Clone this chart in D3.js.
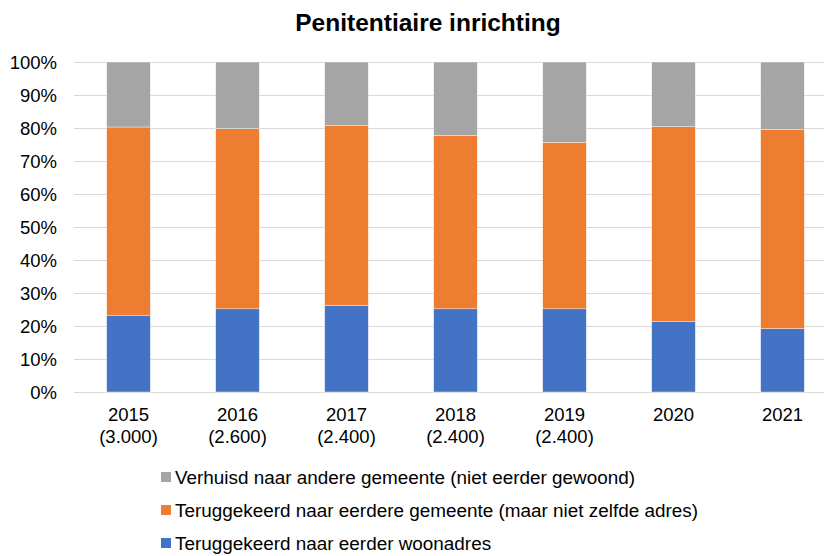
<!DOCTYPE html>
<html>
<head>
<meta charset="utf-8">
<title>Penitentiaire inrichting</title>
<script src="https://d3js.org/d3.v7.min.js"></script>
<style>
  body { margin: 0; background: #fff; }
  text { font-family: "Liberation Sans", Arial, sans-serif; fill: #000; }
</style>
</head>
<body>
<script>
var years = ["2015", "2016", "2017", "2018", "2019", "2020", "2021"];
var counts = ["(3.000)", "(2.600)", "(2.400)", "(2.400)", "(2.400)", "", ""];
// shares in percent, bottom to top
var eerderAdres = [23.1, 25.2, 26.2, 25.2, 25.2, 21.3, 19.2];
var eerdereGemeente = [57.2, 54.6, 54.5, 52.5, 50.5, 59.1, 60.3];
var andereGemeente = [19.7, 20.2, 19.3, 22.3, 24.3, 19.6, 20.5];
var seriesNames = [
  "Teruggekeerd naar eerder woonadres",
  "Teruggekeerd naar eerdere gemeente (maar niet zelfde adres)",
  "Verhuisd naar andere gemeente (niet eerder gewoond)"
];
var colors = ["#4472C4", "#ED7D31", "#A5A5A5"];
var yTicks = [0, 10, 20, 30, 40, 50, 60, 70, 80, 90, 100];

var width = 824, height = 556;

var rows = years.map(function(y, i) {
  return { year: y, s0: eerderAdres[i], s1: eerdereGemeente[i], s2: andereGemeente[i] };
});

var svg = d3.select("body").append("svg")
  .attr("width", width)
  .attr("height", height);

var x = d3.scaleBand()
  .domain(years)
  .range([74, 837])
  .paddingInner(0.6)
  .paddingOuter(0.3);

var y = d3.scaleLinear()
  .domain([0, 100])
  .range([392, 62]);

// title
svg.append("text")
  .attr("x", 428)
  .attr("y", 31)
  .attr("text-anchor", "middle")
  .style("font-size", "24.5px")
  .style("font-weight", "bold")
  .text("Penitentiaire inrichting");

// gridlines
svg.append("g")
  .selectAll("line")
  .data(yTicks)
  .enter()
    .append("line")
    .attr("x1", 74)
    .attr("x2", width)
    .attr("y1", function(d) { return y(d) + 0.5; })
    .attr("y2", function(d) { return y(d) + 0.5; })
    .attr("stroke", "#d9d9d9")
    .attr("stroke-width", 1);

// y axis
var yAxis = d3.axisLeft(y)
  .tickValues(yTicks)
  .tickSize(0)
  .tickPadding(0)
  .tickFormat(function(d) { return d + "%"; });

var yg = svg.append("g")
  .attr("transform", "translate(57,0)")
  .call(yAxis);
yg.select(".domain").remove();
yg.selectAll("text").style("font-size", "18.5px").attr("dy", "0.35em");

// stacked bars
var stack = d3.stack().keys(["s0", "s1", "s2"]);
var layers = stack(rows);

svg.append("g")
  .selectAll("g")
  .data(layers)
  .enter()
    .append("g")
    .attr("fill", function(d, i) { return colors[i]; })
    .selectAll("rect")
    .data(function(d) { return d; })
    .enter()
      .append("rect")
      .attr("x", function(d) { return x(d.data.year); })
      .attr("width", x.bandwidth())
      .attr("y", function(d) { return y(d[1]); })
      .attr("height", function(d) { return y(d[0]) - y(d[1]); })
      .attr("stroke", "#fff")
      .attr("stroke-width", 0.4);

// x axis
var xAxis = d3.axisBottom(x).tickSize(0).tickPadding(0);
var xg = svg.append("g")
  .attr("transform", "translate(0,392)")
  .call(xAxis);
xg.select(".domain").remove();
xg.selectAll(".tick text").remove();
xg.selectAll(".tick").each(function(d, i) {
  var t = d3.select(this).append("text")
    .attr("text-anchor", "middle")
    .attr("fill", "#000")
    .style("font-size", "18.5px");
  t.append("tspan").attr("x", 0).attr("y", 29).text(d);
  if (counts[i]) t.append("tspan").attr("x", 0).attr("y", 51).text(counts[i]);
});

// legend
var legendOrder = [2, 1, 0];
var legend = svg.append("g")
  .selectAll("g")
  .data(legendOrder)
  .enter()
    .append("g")
    .attr("transform", function(d, i) { return "translate(161," + (477 + i * 33) + ")"; });

legend.append("rect")
  .attr("x", 0)
  .attr("y", -5)
  .attr("width", 10)
  .attr("height", 10)
  .attr("fill", function(d) { return colors[d]; });

legend.append("text")
  .attr("x", 14)
  .attr("y", 0)
  .attr("dy", "0.35em")
  .style("font-size", "18.9px")
  .text(function(d) { return seriesNames[d]; });
</script>
</body>
</html>
